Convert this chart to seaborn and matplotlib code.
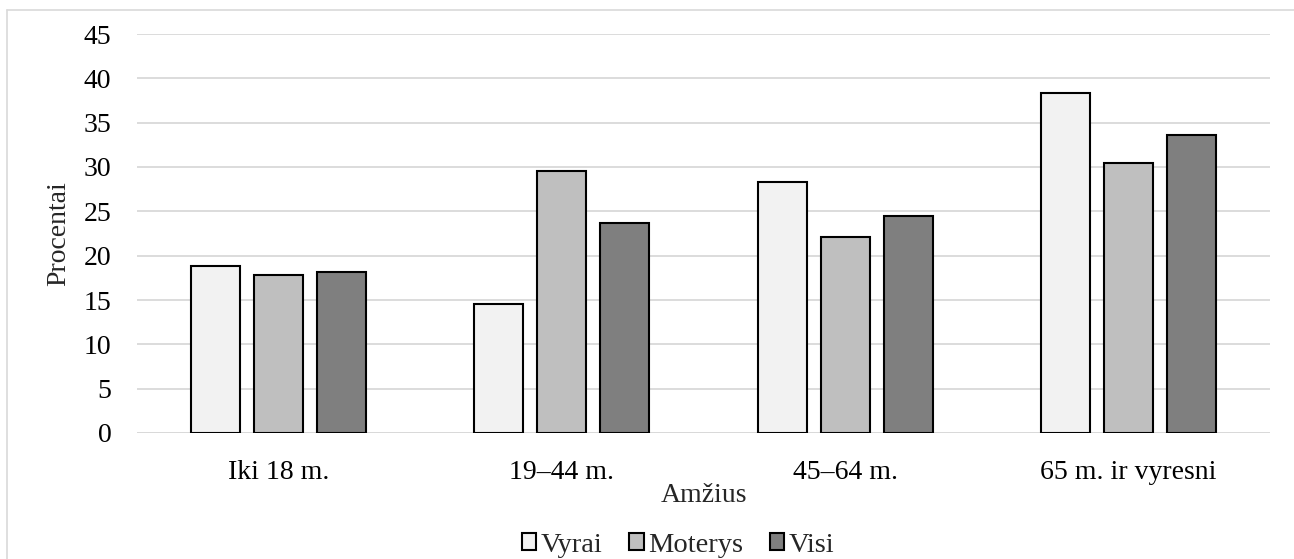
import matplotlib
matplotlib.use("Agg")
import matplotlib.pyplot as plt
import seaborn as sns
import pandas as pd
from matplotlib.lines import Line2D

categories = ["Iki 18 m.", "19–44 m.", "45–64 m.", "65 m. ir vyresni"]
series = ["Vyrai", "Moterys", "Visi"]
vyrai = [18.8, 14.5, 28.3, 38.3]
moterys = [17.8, 29.6, 22.1, 30.4]
visi = [18.2, 23.7, 24.5, 33.6]
yticks = list(range(0, 50, 5))
colors = ["#f2f2f2", "#bfbfbf", "#7f7f7f"]

rows = []
for name, vals in zip(series, [vyrai, moterys, visi]):
    for c, v in zip(categories, vals):
        rows.append({"Amžius": c, "Grupė": name, "Procentai": v})
df = pd.DataFrame(rows)

sns.set_theme(style="white")
plt.rcParams['font.family'] = ['Liberation Serif', 'DejaVu Serif']

FS = 20
fig = plt.figure(figsize=(12.94, 5.59), dpi=100)
ax = fig.add_axes([137/1294, 1 - 433/559, (1270-137)/1294, (433-34)/559])

sns.barplot(data=df, x="Amžius", y="Procentai", hue="Grupė", order=categories,
            hue_order=series, palette=colors, width=0.667, gap=0.22,
            edgecolor="black", linewidth=1.5, ax=ax, legend=True)

ax.set_ylim(0, 45)
ax.set_yticks(yticks)
ax.set_xlim(-0.5, 3.5)
ax.yaxis.grid(True, color="#d9d9d9", linewidth=1.3)
ax.set_axisbelow(True)
for s in ax.spines.values():
    s.set_visible(False)
ax.axhline(0, color="#d9d9d9", linewidth=1.3, zorder=0)
ax.tick_params(axis="both", length=0, labelsize=FS, colors="black")
ax.tick_params(axis="y", pad=18.5)
ax.tick_params(axis="x", pad=19.5)
ax.set_xlabel("Amžius", fontsize=FS, labelpad=-1.5)
ax.set_ylabel("Procentai", fontsize=FS, labelpad=9)

leg = ax.legend(loc="center", bbox_to_anchor=((678-137)/1133, (433-545)/(433-34)), ncol=3,
                frameon=False, fontsize=20.5, handlelength=0.5, handleheight=0.5,
                handletextpad=0.15, columnspacing=0.95, borderaxespad=0)

# chart-area border (left and top visible)
fig.add_artist(Line2D([7/1294, 7/1294], [0, 1 - 10/559], transform=fig.transFigure,
                      color="#d9d9d9", linewidth=1.2))
fig.add_artist(Line2D([7/1294, 1], [1 - 10/559, 1 - 10/559], transform=fig.transFigure,
                      color="#d9d9d9", linewidth=1.2))

fig.savefig("out.png", dpi=100)
